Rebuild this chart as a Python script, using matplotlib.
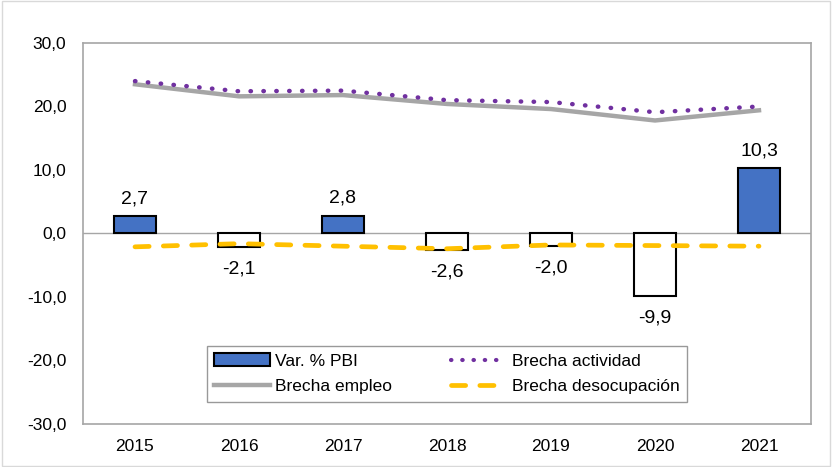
import matplotlib.pyplot as plt
import numpy as np
from matplotlib.patches import Patch
from matplotlib.lines import Line2D

plt.rcParams["font.family"] = ["Liberation Sans", "DejaVu Sans"]

years = ["2015", "2016", "2017", "2018", "2019", "2020", "2021"]
var_pbi = [2.7, -2.1, 2.8, -2.6, -2.0, -9.9, 10.3]
brecha_actividad = [24.0, 22.4, 22.5, 21.0, 20.7, 19.1, 20.0]
brecha_empleo = [23.5, 21.6, 21.8, 20.4, 19.6, 17.8, 19.4]
brecha_desocupacion = [-2.1, -1.6, -2.0, -2.4, -1.8, -1.9, -2.0]

x = np.arange(len(years))

fig = plt.figure(figsize=(8.32, 4.67), dpi=100)
ax = fig.add_axes([83 / 832, 43 / 467, 728 / 832, 381 / 467])

colors = ["#4472C4" if v > 0 else "white" for v in var_pbi]
ax.bar(x, var_pbi, width=0.41, color=colors, edgecolor="black", linewidth=1.5, zorder=2)
ax.axhline(0, color="#A6A6A6", linewidth=1, zorder=1)

ax.plot(x, brecha_empleo, color="#A6A6A6", linewidth=3.2, zorder=3)
ax.plot(x, brecha_actividad, color="#7030A0", linewidth=3.2, linestyle=(0, (0.1, 2.8)),
        dash_capstyle="round", zorder=4)
ax.plot(x, brecha_desocupacion, color="#FFC000", linewidth=3.4, linestyle=(0, (3, 3)),
        dash_capstyle="round", zorder=4)

for xi, v in zip(x, var_pbi):
    label = f"{v:.1f}".replace(".", ",")
    if v > 0:
        ax.text(xi, v + 1.4, label, ha="center", va="bottom", fontsize=14)
    else:
        ax.text(xi, v - 2.1, label, ha="center", va="top", fontsize=14)

ax.set_xlim(-0.5, len(years) - 0.5)
ax.set_ylim(-30, 30)
ax.set_yticks(np.arange(-30, 31, 10))
ax.set_yticklabels([f"{t:.1f}".replace(".", ",") for t in np.arange(-30, 31, 10)], fontsize=12.5)
ax.set_xticks(x)
ax.set_xticklabels(years, fontsize=12.5)
ax.tick_params(axis="y", length=0, pad=12)
ax.tick_params(axis="x", length=0, pad=11)
for s in ax.spines.values():
    s.set_color("#A6A6A6")
    s.set_linewidth(1.2)

handles = [
    Patch(facecolor="#4472C4", edgecolor="black", linewidth=1.5),
    Line2D([], [], color="#A6A6A6", linewidth=3.2),
    Line2D([], [], color="#7030A0", linewidth=3, linestyle=(0, (0.1, 2.6)), dash_capstyle="round"),
    Line2D([], [], color="#FFC000", linewidth=3.4, linestyle=(0, (3, 3)), dash_capstyle="round"),
]
labels = ["Var. % PBI", "Brecha empleo", "Brecha actividad", "Brecha desocupación"]
leg = ax.legend(handles, labels, ncol=2, loc="lower center", bbox_to_anchor=(0.5, 0.035),
                fontsize=12.5, frameon=True, fancybox=False, edgecolor="#808080",
                handlelength=3.2, handletextpad=0.3, columnspacing=3.4, borderpad=0.45,
                labelspacing=0.6)
leg.get_frame().set_linewidth(1)

fig.patches.append(plt.Rectangle((0.002, 0.002), 0.996, 0.996, transform=fig.transFigure,
                                 fill=False, edgecolor="#D9D9D9", linewidth=1))

fig.savefig("out.png", dpi=100)
